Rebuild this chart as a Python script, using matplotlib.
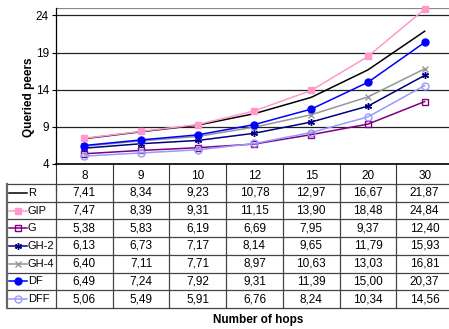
import matplotlib.pyplot as plt

plt.rcParams['font.family'] = ['Liberation Sans', 'DejaVu Sans']

# hop counts on the category axis
hops = ['8', '9', '10', '12', '15', '20', '30']

# queried peers per method
series_names = ['R', 'GIP', 'G', 'GH-2', 'GH-4', 'DF', 'DFF']
r_vals = [7.41, 8.34, 9.23, 10.78, 12.97, 16.67, 21.87]
gip_vals = [7.47, 8.39, 9.31, 11.15, 13.90, 18.48, 24.84]
g_vals = [5.38, 5.83, 6.19, 6.69, 7.95, 9.37, 12.40]
gh2_vals = [6.13, 6.73, 7.17, 8.14, 9.65, 11.79, 15.93]
gh4_vals = [6.40, 7.11, 7.71, 8.97, 10.63, 13.03, 16.81]
df_vals = [6.49, 7.24, 7.92, 9.31, 11.39, 15.00, 20.37]
dff_vals = [5.06, 5.49, 5.91, 6.76, 8.24, 10.34, 14.56]

y_ticks = [4, 9, 14, 19, 24]

styles = {
    'R':    dict(color='black', marker=None),
    'GIP':  dict(color='#ff99cc', marker='s', mfc='#ff99cc'),
    'G':    dict(color='#800080', marker='s', mfc='none'),
    'GH-2': dict(color='#000080', marker=(6, 2, 0), mfc='#000080'),
    'GH-4': dict(color='#969696', marker='x', mfc='#969696'),
    'DF':   dict(color='#0000ff', marker='o', mfc='#0000ff'),
    'DFF':  dict(color='#9999ff', marker='o', mfc='none'),
}
all_vals = [r_vals, gip_vals, g_vals, gh2_vals, gh4_vals, df_vals, dff_vals]

W, H = 449, 329
fig = plt.figure(figsize=(W / 100, H / 100), dpi=100)


def px_axes(left, top, right, bottom):
    return fig.add_axes([left / W, 1 - bottom / H, (right - left) / W, (bottom - top) / H])


x = list(range(len(hops)))

ax = px_axes(56, 8, 453, 164)
for name, vals in zip(series_names, all_vals):
    st = styles[name]
    ax.plot(x, vals, color=st['color'], lw=1.1, marker=st['marker'],
            ms=5, mfc=st.get('mfc', st['color']), mec=st['color'], mew=1.0,
            clip_on=False, zorder=3)

ax.set_xlim(-0.5, len(hops) - 0.5)
ax.set_ylim(4, 25)
ax.set_yticks(y_ticks)
ax.tick_params(axis='y', labelsize=8.5, length=3, width=0.8, pad=2)
for yt in y_ticks:
    ax.axhline(yt, color='#222222', lw=0.9, zorder=1)
ax.axhline(25, color='#888888', lw=0.9, zorder=1)
for s in ['top', 'right']:
    ax.spines[s].set_visible(False)
ax.spines['left'].set_linewidth(0.9)
ax.spines['bottom'].set_linewidth(1.2)

# category labels sit between long separator ticks
ax.set_xticks(x)
ax.set_xticklabels(hops)
ax.set_xticks([i - 0.5 for i in range(len(hops) + 1)], minor=True)
ax.tick_params(axis='x', which='major', length=0, labelsize=8.5, pad=4)
ax.tick_params(axis='x', which='minor', length=20, width=0.8, color='#333333')
ax.set_ylabel('Queried peers', fontsize=8.5, fontweight='bold')
ax.yaxis.set_label_coords(-21 / 397, 0.43)

# data table under the chart
tab = px_axes(56, 184, 453, 308)
tab.set_xlim(-0.5, len(hops) - 0.5)
tab.set_ylim(len(series_names), 0)
tab.axis('off')
leg_left = -0.5 - 49 / 56.7
line_kw = dict(color='#444444', lw=0.9, clip_on=False)
for i in range(len(series_names) + 1):
    tab.plot([leg_left, len(hops) - 0.5], [i, i], **line_kw)
for j in range(len(hops) + 1):
    tab.plot([j - 0.5, j - 0.5], [0, len(series_names)], **line_kw)
tab.plot([leg_left, leg_left], [0, len(series_names)], color='#666666', lw=1.6, clip_on=False)

for i, (name, vals) in enumerate(zip(series_names, all_vals)):
    st = styles[name]
    yc = i + 0.5
    kx0 = leg_left + 0.04
    kx1 = leg_left + 0.36
    tab.plot([kx0, kx1], [yc, yc], color=st['color'], lw=1.1, clip_on=False)
    if st['marker'] is not None:
        tab.plot([(kx0 + kx1) / 2], [yc], marker=st['marker'], ms=5,
                 mfc=st.get('mfc', st['color']), mec=st['color'], mew=1.0,
                 clip_on=False)
    tab.text(kx1 + 0.01, yc, name, ha='left', va='center', fontsize=8)
    for j, v in enumerate(vals):
        tab.text(j, yc, f'{v:.2f}'.replace('.', ','), ha='center', va='center', fontsize=8.5)

fig.text(258 / W, 1 - 320 / H, 'Number of hops', ha='center', va='center',
         fontsize=8.5, fontweight='bold')

fig.savefig('out.png', dpi=100)
